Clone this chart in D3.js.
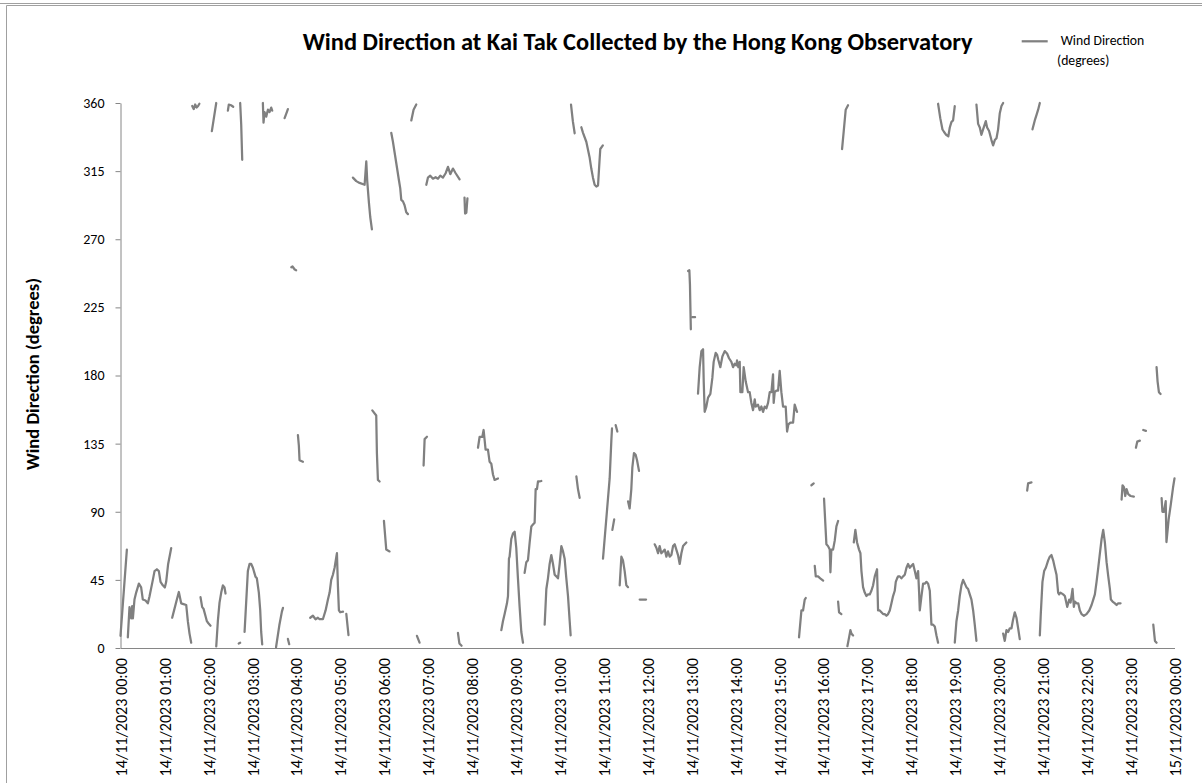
<!DOCTYPE html>
<html><head><meta charset="utf-8">
<script src="https://cdn.jsdelivr.net/npm/d3@7"></script>
<style>html,body{margin:0;padding:0;background:#fff;}svg{display:block;}</style>
</head><body>
<svg id="chart" width="1202" height="783"></svg>
<script>
const titleText = "Wind Direction at Kai Tak Collected by the Hong Kong Observatory";
const yAxisTitle = "Wind Direction (degrees)";
const legendLines = ["Wind Direction", "(degrees)"];
const yTicks = [0, 45, 90, 135, 180, 225, 270, 315, 360];
const xTickMinutes = d3.range(0, 1441, 60);
const xTickLabels = [
  "14/11/2023 00:00","14/11/2023 01:00","14/11/2023 02:00","14/11/2023 03:00","14/11/2023 04:00",
  "14/11/2023 05:00","14/11/2023 06:00","14/11/2023 07:00","14/11/2023 08:00","14/11/2023 09:00",
  "14/11/2023 10:00","14/11/2023 11:00","14/11/2023 12:00","14/11/2023 13:00","14/11/2023 14:00",
  "14/11/2023 15:00","14/11/2023 16:00","14/11/2023 17:00","14/11/2023 18:00","14/11/2023 19:00",
  "14/11/2023 20:00","14/11/2023 21:00","14/11/2023 22:00","14/11/2023 23:00","15/11/2023 00:00"
];

// minutes after 14/11/2023 00:00, one inner array per unbroken run of readings
const segMinutes = [
  [0,8.7],
  [10,12.3,14.6,15.9,16.9,19.1,21.4,25.1,28.2,30.5,34.2,37.4,39.6,44.2,46.5,49.7,52.4,54.7,57.8,60.6,62.4,65.1,69.3],
  [70.6,73.8,77,79.7,82.9,86.1,89.8,92,94.3,96.6],
  [98,100,102,104,106,107.8],
  [109.3,111.6,113.4,116.2,118,119.8,123],
  [124.8,127.1,130.8],
  [130.8,133,135.3,137.6,139.9,142.1,143.5],
  [146.7,148,151,154],
  [161.5,163.5],
  [163.5,164.9,166.3],
  [169.5,174,176.3,178.6,180.9,184.5,186.3,189,190.9,192.2,193.6],
  [194.5,195.4,196.8,199.1,201.4,203.6,205.9,207.3],
  [212.5,217,220.5,222],
  [224.2,226.5,228.7],
  [228.7,230.5],
  [233.3,235,238,240],
  [242.4,243.7,244.6,249.2],
  [259.2,262.9,266.5,269.7,272,276.5,280.2,283.4,285.7,287.9,290.2,292.5,294.8,295.7,297,298.4,300.2,304],
  [308.5,311.5],
  [317.5,322.1,326.6,333.5,335.8,337.1,339.4,341.2,343.5],
  [344,349.4,350.3,351.7,354],
  [359.9,363.1,367.6],
  [369.9,372.2,374.5,377.7,380.4,382.2,383.6,385.9,388.1,390.4,392.7],
  [397.3,400.4,404.1],
  [405,408.6],
  [414.1,415.5,418.7],
  [417.8,420,423.2,426.9,430.5,433.7,436.9,440.5,444.2,447.4,450.6,454.2,457.9,463.3],
  [461,463,466],
  [470,470.8,472.5,474],
  [488.4,490.6,494.3,496.1,498.8,502,504.3,506.6,508.9,511.1,515.7],
  [520.3,522.5,524.8,528,529.4,530.7,531.6,533.9,536.2,538.5,540.7,543,545.3,547.6,549.9],
  [552.1,554.4,556.7,559,561.3,563.5,565.8,567.2,569,570.4,572.6,574.9],
  [579.5,581.8,584,586.3,588.6,590.9,593.2,595.4,597.7,600,602.3,604.6,606.8,609.1,611.4,613.7,615],
  [615.5,618,620.5],
  [622.8,625,627.3],
  [629.6,631.9,636.4,641,643.2,645.5,647.8,650.1,652.4,654.6,655.5,659],
  [659.2,668.3,670.6,671.5],
  [672,674.5],
  [676.5,678.8],
  [682,684.3,686.5,688.8,691.1,693.4],
  [693.4,695.6,697.9,699.3,701.5,703.8,705.7,708.4],
  [709.3,718],
  [729.8,732.1,734.4,736.6,738.9,741.2,743.5,745.8,748,750.3,752.6,754.9,757.2,759.4,761.7,764,766.3,768.6,770.8,773.1],
  [775.4,777.2,778,778.6,779.2],
  [781,785],
  [789,791.3,793.6,795.9,796.8,798.1,800.4,802.7,805.9,808.6,810.4,813.2,815,816.8,819.5,822.3,825.5,828.7,831.4,834.6,
   836.9,839.1,841.4,842.3,844.1,846,846.9,849.6,851.4,854.2,857.4,859.6,861.9,864.2,866.5,867.8,871,873.3,875.6,877.9,
   880.1,882.4,884.7,887,889.3,891.5,892.4,893.8,896.1,898.4,900.6,902.9,905.2,908.8,910.7,912.5,915.2,918.9,921.1,924.3],
  [927,930.3,932.5,934.8,936.2],
  [943.9,947.1],
  [948.5,949.9,953,956,960],
  [961.2,964.4,966.7,969,969.9,971.2,973.5,975.8,978.1,980.4],
  [980.4,981.7,984.9],
  [985.8,988.1,990.8,994],
  [993.1,995.4,997.2,998.6,1000.9],
  [1001.8,1004,1006.3,1009,1010.9,1012.3,1014.5,1016.8,1019.1,1021.4,1023.6,1025.9,1028.2,1030.5,1033.6,1035,1037.3,1039.6,
   1041.9,1044.1,1046.4,1048.7,1051,1053.3,1055.5,1057.8,1059.2,1061,1062.4,1064.6,1066.9,1069.2,1071.5,1073.8,1076,1078.3,
   1080.6,1082.9,1085.2,1087.4,1089.7,1091.1,1092,1094.3,1096.5,1098.8,1101.1,1103.4,1105.7,1107.9,1110.2,1112.5,1114.8,1117],
  [1117,1120,1123,1125,1128,1131,1133,1135.2,1137.5,1139.8],
  [1139.8,1142.1,1144.4,1146.6,1148.9,1151.2,1153.5,1155.7,1158,1160.3,1162.6,1164.9,1167.1,1169.4],
  [1169.4,1171.7,1174,1176.2,1178.5,1182.2,1184,1186.7,1189.9,1192.2,1194.5,1196.8,1199,1201.3,1203.6,1205.9],
  [1205.9,1208.1,1210.4,1212.7,1215,1217.3,1219.5,1221.8,1224.1,1226.4,1228.6],
  [1238.7,1240,1244.6],
  [1246,1249.1,1251.4,1253.7,1256],
  [1256,1257.3,1259.6,1261.9,1264.2,1267.4,1269.6,1271.9,1274.2,1276.5,1278.8,1281,1282.4,1284.2,1287.9,1290.2,1293.4,1296.2,
   1298,1300.7,1302.5,1303.9,1306.2,1308.5,1310.7,1313,1316.2,1319.8,1323.5,1326.7,1329,1331.2,1333.5,1335.8,1338.1,1340.4,
   1342.6,1344.9,1347.2,1349.5,1351.7,1353.1,1355.4,1358.6,1360.9,1363.1,1366.3],
  [1367.7,1369,1370.9,1372.7,1374.5,1376.8,1380,1384.5],
  [1387.3,1389.1,1392.7],
  [1397.3,1401],
  [1411,1413.3,1415.5],
  [1415.5,1416.9,1418.7,1421],
  [1422.4,1423.5,1425.6,1428,1429,1432,1435,1438,1440]
];

// wind direction in degrees, same shape as segMinutes
const segDegrees = [
  [8,65],
  [7,27,19.6,27.6,19.6,32,36.6,42.5,40,32,31.4,29.5,34,45,50.8,52,50.8,43.7,41.4,40,43.7,55.5,66],
  [20,26,32,37,29.5,29,28.4,17.7,9.5,3.5],
  [358,356,359,357,358,359.5],
  [33.6,27,26,21,17.7,16.5,14.7],
  [341.4,348.5,360],
  [1,17.7,30,36.6,41.4,40,36],
  [355,359,358.5,357.5],
  [3,3.5],
  [360,346,322.5],
  [10.6,50.8,55.5,55.5,53,47,46,36.6,24.8,10.6,2.4],
  [360,347,354,351,355.6,354,357,355],
  [0.5,15,24,26.5],
  [350,353,356],
  [6,2.5],
  [251.5,252,250,249.5],
  [140.6,133.5,124,123],
  [20,21.3,19,20,19,19,24.8,32,36.6,45,48.4,53,60,62.6,41.4,24.8,23.6,24],
  [22.5,8.5],
  [310.7,308.4,307.2,306,321.4,308.4,294.2,284.7,276.5],
  [157,153.6,128.8,111,110],
  [84,65,63.8],
  [340.3,334.4,327.3,317.4,309,303.6,296,295,292.5,287.8,286.6],
  [348.5,355.6,359],
  [8,3.5],
  [120.5,138,139.5],
  [306,310.7,312,310,311,310,312,310.7,313.6,317.8,313,316.7,313.6,309.6],
  [10,3,1.5],
  [297.5,287,287.5,297],
  [132.3,139.4,139.4,144,131,131,123,121.7,114.6,111,112],
  [11.8,17.7,22.4,29.5,34.3,59,60.3,72,75.6,76.8,66.2,46,27.2,10.6,3.5],
  [49.6,56.7,58,69.7,80.3,81.5,82.7,105,105,110,110,110.3],
  [15.4,39,46,55.5,61.4,55.5,48.4,47.3,46,55.5,67.3,63.8,59,46,34.3,17.7,8.3],
  [359,348,340],
  [113.4,105,99.2],
  [344,340.3,334.4,323.8,316.7,310.7,306,304.8,305.5,323,329.6,332],
  [59,112,137,145],
  [78,85],
  [147.2,143],
  [41.4,60.3,57.9,50.8,41.4,40.2],
  [96.9,92.2,105,119.3,128.8,127.6,124,117],
  [32,32],
  [68.5,66.2,62.6,67.3,62.6,63.8,65,60.3,63.8,60.3,61.4,67.3,68.5,65,61.4,55.5,62.6,67.3,68.5,69.7],
  [249,249.5,240,225,210.5],
  [218.5,218.5],
  [168,185.5,196,197.3,176,156,159.5,165.4,167.8,178.4,189,195,193.8,190.2,185.5,192.6,196.1,194.5,191.4,189,
   185.5,187.8,186.7,190,185.5,189,169,169,185.5,176,169,169,161.9,157.1,164.2,159.5,160.7,157.1,159.5,156,
   159.5,158.3,161.9,169,169,180.8,161.9,169,170,170,183,169,159.5,159.5,143,147.7,148.9,148.9,160.7,156],
  [7,24.8,24.8,32,33],
  [107.5,108.7],
  [54.3,47.3,47.3,46,44.5],
  [98.6,68.6,67.3,65,50,65,65,70.9,80.3,83.9],
  [30.7,23.6,22.4],
  [329.6,341.4,355.6,358.5],
  [1.2,7,11.8,9.5,8.3],
  [69.7,78,69.7,65,62.6,50.8,40.2,36.6,34.3,35.4,35.4,37.8,41.4,47.3,52,24.8,24.8,23.6,
   22.4,22.4,21.3,22.4,24.8,29.5,34.3,37.8,43.7,46,47.3,47.3,46,47.3,48.4,53,55.5,53,
   54.3,55.5,50.8,46,50.8,36.6,24.8,34.3,42.5,42.5,43.7,42.5,37.8,15.4,15.4,14.2,8.3,3.5],
  [359.5,350,342.5,341,339,338,343.8,347.4,348.5,358],
  [3.5,17.7,24.8,34.3,41.4,45,42.5,40.2,39,35.4,32,24.8,15.4,4.7],
  [359,346.2,343.8,339,342.6,348,343.8,341.5,335.5,332,335.5,336.7,342.6,353.3,358,360],
  [9.5,4.7,11.8,10.6,13,13,18.9,23.6,20,13,5.9],
  [104,108.7,109.4],
  [342.6,348.5,352,355.6,360],
  [8.3,22.4,43.7,50.8,53,57.9,60.3,61.4,57.9,53,48.4,36.6,35.4,36.6,35.4,34.3,27.2,32,
   30,39,27.2,30.7,29.5,29.5,24.8,22.4,21.3,22.4,24.8,28.4,32,35.4,43.7,53,62.6,72,
   78,69.7,56.7,47.3,39,32,30.7,29.5,28.4,29.5,29.5],
  [98,107.5,106.3,100.4,105,101.6,100.4,100],
  [132.3,136.3,137],
  [144,143.4],
  [15.4,4.7,3.5],
  [185.5,176,169,167.8],
  [99,90,90,97,70,85,95,106,112]
];

const W = 1202, H = 783;
const FONT = "Carlito, Calibri, Lato, 'Open Sans', sans-serif";
const LINE_COLOR = "#808080";
const AXIS_COLOR = "#868686";
const svg = d3.select("#chart");
svg.append("rect").attr("width", W).attr("height", H).attr("fill", "#fff");

// outer frames
svg.append("line").attr("x1", 0).attr("x2", W).attr("y1", 3.5).attr("y2", 3.5)
  .attr("stroke", "#a0a0a0").attr("stroke-width", 1);
svg.append("path").attr("d", `M6.5,${H + 2}V5.5H${W + 2}`)
  .attr("fill", "none").attr("stroke", "#a0a0a0").attr("stroke-width", 1);

const x = d3.scaleLinear().domain([0, 1440]).range([120.5, 1174.5]);
const y = d3.scaleLinear().domain([0, 360]).range([648, 103]);

function fitWidth(sel, target) {
  const fs = parseFloat(sel.attr("font-size"));
  const len = sel.node().getComputedTextLength();
  if (len > 0) sel.attr("font-size", (fs * target / len).toFixed(2));
}

// title
const title = svg.append("text").attr("x", 637.7).attr("y", 50)
  .attr("text-anchor", "middle").attr("font-family", FONT).attr("font-weight", "bold")
  .attr("font-size", 20).attr("fill", "#000").text(titleText);
fitWidth(title, 670);

// y axis
const yAxis = svg.append("g").attr("transform", "translate(120.5,0)")
  .call(d3.axisLeft(y).tickValues(yTicks).tickSize(5).tickSizeOuter(0).tickPadding(11));
yAxis.select(".domain").attr("stroke", AXIS_COLOR);
yAxis.selectAll(".tick line").attr("stroke", AXIS_COLOR);
yAxis.selectAll(".tick text").attr("font-family", FONT).attr("font-size", 14).attr("fill", "#000");

// x axis
const xAxis = svg.append("g").attr("transform", "translate(0,648)")
  .call(d3.axisBottom(x).tickValues(xTickMinutes).tickSize(0).tickSizeOuter(0)
    .tickFormat((d, i) => xTickLabels[i]));
xAxis.select(".domain").attr("stroke", AXIS_COLOR);
xAxis.selectAll(".tick text").attr("font-family", FONT).attr("font-size", 14).attr("fill", "#000")
  .attr("transform", "rotate(-90)").attr("text-anchor", "end")
  .attr("x", -10).attr("y", 0).attr("dy", "0.36em");
xAxis.selectAll(".tick text").each(function () { fitWidth(d3.select(this), 118.5); });

// y axis title
const yt = svg.append("text").attr("transform", "translate(39,374) rotate(-90)")
  .attr("text-anchor", "middle").attr("font-family", FONT).attr("font-weight", "bold")
  .attr("font-size", 14).attr("fill", "#000").text(yAxisTitle);
fitWidth(yt, 192);

// data line
const line = d3.line().x(d => x(d[0])).y(d => y(d[1]));
const runs = segMinutes.map((m, i) => {
  const dv = segDegrees[i] || [];
  const n = Math.min(m.length, dv.length);
  return d3.range(n).map(k => [m[k], dv[k]]);
});
svg.append("g").selectAll("path").data(runs).join("path")
  .attr("d", line).attr("fill", "none").attr("stroke", LINE_COLOR)
  .attr("stroke-width", 2.25).attr("stroke-linejoin", "round").attr("stroke-linecap", "round");

// legend
svg.append("line").attr("x1", 1021.7).attr("x2", 1047.7).attr("y1", 41.3).attr("y2", 41.3)
  .attr("stroke", LINE_COLOR).attr("stroke-width", 2.25);
const lg1 = svg.append("text").attr("x", 1060.7).attr("y", 44.8).attr("font-family", FONT)
  .attr("font-size", 12).attr("fill", "#000").text(legendLines[0]);
fitWidth(lg1, 83.6);
svg.append("text").attr("x", 1057).attr("y", 64.8).attr("font-family", FONT)
  .attr("font-size", lg1.attr("font-size")).attr("fill", "#000").text(legendLines[1]);
</script>
</body></html>
